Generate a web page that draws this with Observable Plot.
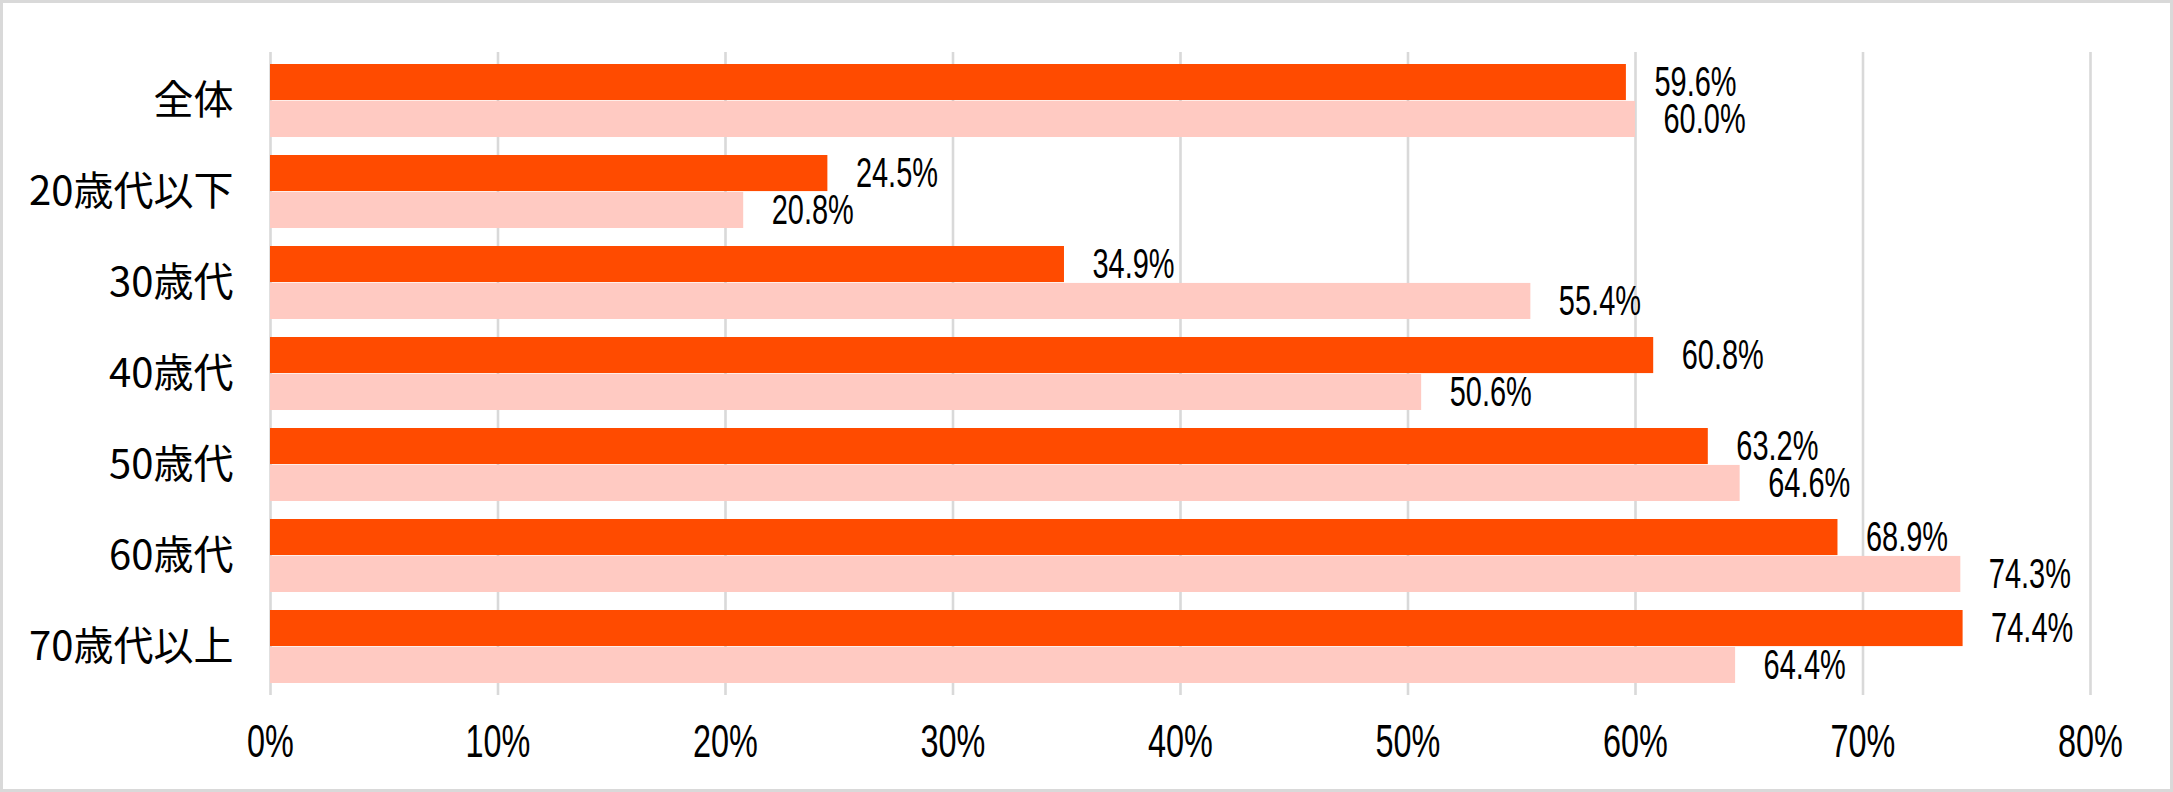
<!DOCTYPE html>
<html><head><meta charset="utf-8">
<script src="https://cdn.jsdelivr.net/npm/d3@7"></script>
<script src="https://cdn.jsdelivr.net/npm/@observablehq/plot@0.6"></script>
<style>
html,body{margin:0;padding:0;background:#fff;}
#chart{width:2173px;height:792px;position:relative;overflow:hidden;}
#chart svg{display:block;}
#chart::after{content:"";position:absolute;left:0;top:0;right:0;bottom:0;border:3px solid #d9d9d9;pointer-events:none;}
</style></head><body><div id="chart"></div>
<script>
const categories = ["全体","20歳代以下","30歳代","40歳代","50歳代","60歳代","70歳代以上"];
const seriesDark = [59.6,24.5,34.9,60.8,63.2,68.9,74.4];
const seriesLight = [60.0,20.8,55.4,50.6,64.6,74.3,64.4];
const xTicks = [0,10,20,30,40,50,60,70,80];
const tickLabels = ["0%","10%","20%","30%","40%","50%","60%","70%","80%"];

const darkColor = "#ff4b00";
const lightColor = "#ffcac2";
const latin = "Liberation Sans, Arial, sans-serif";
const cjk = "Noto Sans CJK JP, sans-serif";

const W = 2173, H = 792, mt = 52, mb = 97, ml = 270, mr = 83;
const pi = 0.196, po = 0.098;
const step = (H - mt - mb) / (categories.length - pi + 2 * po);
const bw = step * (1 - pi);

const dark = categories.map((c, i) => ({c, v: seriesDark[i]}));
const light = categories.map((c, i) => ({c, v: seriesLight[i]}));

const chart = Plot.plot({
  width: W, height: H,
  marginTop: mt, marginBottom: mb, marginLeft: ml, marginRight: mr,
  style: {background: "white", color: "#000"},
  x: {domain: [0, 80]},
  y: {domain: categories, paddingInner: pi, paddingOuter: po},
  marks: [
    Plot.gridX(xTicks, {stroke: "#d9d9d9", strokeOpacity: 1, strokeWidth: 2.6}),
    Plot.barX(dark, {x: "v", y: "c", fill: darkColor, insetBottom: bw / 2}),
    Plot.barX(light, {x: "v", y: "c", fill: lightColor, insetTop: bw / 2}),
    Plot.text(dark, {x: "v", y: "c", text: d => d.v.toFixed(1) + "%", textAnchor: "start", dx: 28, dy: -bw / 4, fontSize: 42, fontFamily: latin, fill: "#000"}),
    Plot.text(light, {x: "v", y: "c", text: d => d.v.toFixed(1) + "%", textAnchor: "start", dx: 28, dy: bw / 4, fontSize: 42, fontFamily: latin, fill: "#000"}),
    Plot.axisY({tickSize: 0, tickPadding: 37, fontSize: 40, fontFamily: cjk, fill: "#000", label: null}),
    Plot.axisX({ticks: xTicks, tickFormat: d => tickLabels[xTicks.indexOf(d)], tickSize: 0, tickPadding: 28, fontSize: 47, fontFamily: latin, fill: "#000", label: null})
  ]
});
document.getElementById("chart").appendChild(chart);

// condense the Latin labels horizontally around their anchor point
chart.querySelectorAll("text").forEach(t => {
  const ff = getComputedStyle(t).fontFamily || "";
  if (!/Liberation/.test(ff)) return;
  const s = 0.69;
  const tr = t.getAttribute("transform");
  if (tr) t.setAttribute("transform", tr + ` scale(${s},1)`);
  else {
    const x = +t.getAttribute("x") || 0, y = +t.getAttribute("y") || 0;
    t.setAttribute("transform", `translate(${x},${y}) scale(${s},1) translate(${-x},${-y})`);
  }
});
</script></body></html>
